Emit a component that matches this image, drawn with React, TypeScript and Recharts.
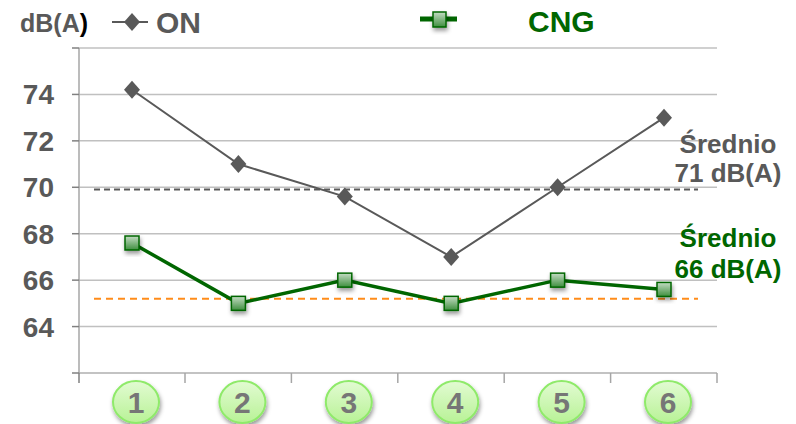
import React from "react";
import {
  LineChart,
  Line,
  XAxis,
  YAxis,
  CartesianGrid,
  ReferenceLine,
} from "recharts";

const categories = ["1", "2", "3", "4", "5", "6"];
const onValues = [74.2, 71.0, 69.6, 67.0, 70.0, 73.0];
const cngValues = [67.6, 65.0, 66.0, 65.0, 66.0, 65.6];
const onMean = 69.9;
const cngMean = 65.2;
const yTicks = [62, 64, 66, 68, 70, 72, 74, 76];

const data = categories.map((name, i) => ({
  name,
  on: onValues[i],
  cng: cngValues[i],
}));

const FONT = "'Liberation Sans', Arial, sans-serif";
const GRAY = "#595959";
const GREEN = "#006600";
const BAND_HALF = 53;

const DiamondDot = (props: any) => {
  const { cx, cy } = props;
  if (cx == null || cy == null) return null;
  return (
    <polygon
      points={`${cx},${cy - 9} ${cx + 8},${cy} ${cx},${cy + 9} ${cx - 8},${cy}`}
      fill={GRAY}
    />
  );
};

const SquareDot = (props: any) => {
  const { cx, cy } = props;
  if (cx == null || cy == null) return null;
  return (
    <rect
      x={cx - 7}
      y={cy - 7}
      width={14}
      height={14}
      fill="url(#cngGrad)"
      stroke={GREEN}
      strokeWidth={1.5}
      filter="url(#shadow)"
    />
  );
};

const XTick = (props: any) => {
  const { x, y, payload, index } = props;
  return (
    <g>
      <line x1={x + BAND_HALF} y1={y} x2={x + BAND_HALF} y2={y + 10} stroke="#a6a6a6" strokeWidth={1.5} />
      {index === 0 && (
        <line x1={x - BAND_HALF} y1={y} x2={x - BAND_HALF} y2={y + 10} stroke="#808080" strokeWidth={1.5} />
      )}
      <ellipse
        cx={x + 4}
        cy={y + 29}
        rx={23}
        ry={21}
        fill="url(#circGrad)"
        stroke="#8fea6a"
        strokeWidth={2}
        filter="url(#shadow)"
      />
      <text
        x={x + 4}
        y={y + 40}
        textAnchor="middle"
        fontSize={30}
        fontWeight="bold"
        fontFamily={FONT}
        fill="#767676"
      >
        {payload.value}
      </text>
    </g>
  );
};

const trimmedLine = (props: any) => (
  <line
    x1={props.x1 + 15}
    y1={props.y1}
    x2={props.x2 - 19}
    y2={props.y2}
    stroke={props.stroke}
    strokeWidth={props.strokeWidth}
    strokeDasharray={props.strokeDasharray}
  />
);

export default function App() {
  return (
    <div style={{ position: "absolute", left: 0, top: 0, width: 796, height: 424, background: "#fff" }}>
      <LineChart width={796} height={424} data={data} margin={{ top: 48, right: 79, bottom: 0, left: 0 }}>
        <defs>
          <linearGradient id="cngGrad" x1="0" y1="0" x2="0" y2="1">
            <stop offset="0%" stopColor="#c4dcc4" />
            <stop offset="100%" stopColor="#3f8f3f" />
          </linearGradient>
          <linearGradient id="circGrad" x1="0" y1="0" x2="0" y2="1">
            <stop offset="0%" stopColor="#e2fbd2" />
            <stop offset="100%" stopColor="#b8f296" />
          </linearGradient>
          <filter id="shadow" x="-50%" y="-50%" width="200%" height="200%">
            <feDropShadow dx="1" dy="3" stdDeviation="2" floodColor="#000" floodOpacity="0.4" />
          </filter>
        </defs>
        <CartesianGrid vertical={false} stroke="#c0c0c0" strokeWidth={1.5} />
        <XAxis
          dataKey="name"
          height={51}
          padding={{ left: BAND_HALF, right: BAND_HALF }}
          axisLine={{ stroke: "#bfbfbf", strokeWidth: 1.5 }}
          tickLine={false}
          tickSize={0}
          tickMargin={0}
          interval={0}
          tick={<XTick />}
        />
        <YAxis
          width={79}
          domain={[62, 76]}
          ticks={yTicks}
          interval={0}
          axisLine={{ stroke: "#a6a6a6", strokeWidth: 1.5 }}
          tickLine={{ stroke: "#808080", strokeWidth: 1.5 }}
          tickSize={7}
          tickMargin={18}
          tickFormatter={(v: number) => (v === 62 || v === 76 ? "" : String(v))}
          tick={{ fontSize: 28, fontWeight: "bold", fill: GRAY, fontFamily: FONT }}
        />
        <ReferenceLine
          y={onMean}
          stroke={GRAY}
          strokeWidth={2}
          strokeDasharray="6 4"
          shape={trimmedLine}
        />
        <ReferenceLine
          y={cngMean}
          stroke="#ff8c1a"
          strokeWidth={2}
          strokeDasharray="7 5"
          shape={trimmedLine}
        />
        <Line
          dataKey="on"
          stroke={GRAY}
          strokeWidth={2}
          dot={<DiamondDot />}
          activeDot={false}
          isAnimationActive={false}
        />
        <Line
          dataKey="cng"
          stroke={GREEN}
          strokeWidth={3.5}
          dot={<SquareDot />}
          activeDot={false}
          isAnimationActive={false}
        />
      </LineChart>
      <svg
        width={796}
        height={424}
        style={{ position: "absolute", left: 0, top: 0, pointerEvents: "none" }}
        fontFamily={FONT}
        fontWeight="bold"
      >
        <text x={20} y={32} fontSize={25} fill={GRAY}>
          dB(A<tspan fill="#000">)</tspan>
        </text>
        <line x1={112} y1={22} x2={148} y2={22} stroke={GRAY} strokeWidth={2} />
        <polygon points="132,13 140,22 132,31 124,22" fill={GRAY} />
        <text x={156} y={33} fontSize={30} fill={GRAY}>ON</text>

        <line x1={420} y1={19} x2={457} y2={19} stroke={GREEN} strokeWidth={5} />
        <rect x={433} y={12} width={13} height={15} fill="url(#cngGrad)" stroke={GREEN} strokeWidth={1.5} filter="url(#shadow)" />
        <text x={528} y={32} fontSize={30} fill={GREEN}>CNG</text>

        <text x={728} y={153} fontSize={26} fill={GRAY} textAnchor="middle">Średnio</text>
        <text x={728} y={182} fontSize={26} fill={GRAY} textAnchor="middle">71 dB(A)</text>
        <text x={728} y={247} fontSize={26} fill={GREEN} textAnchor="middle">Średnio</text>
        <text x={728} y={278} fontSize={26} fill={GREEN} textAnchor="middle">66 dB(A)</text>
      </svg>
    </div>
  );
}
